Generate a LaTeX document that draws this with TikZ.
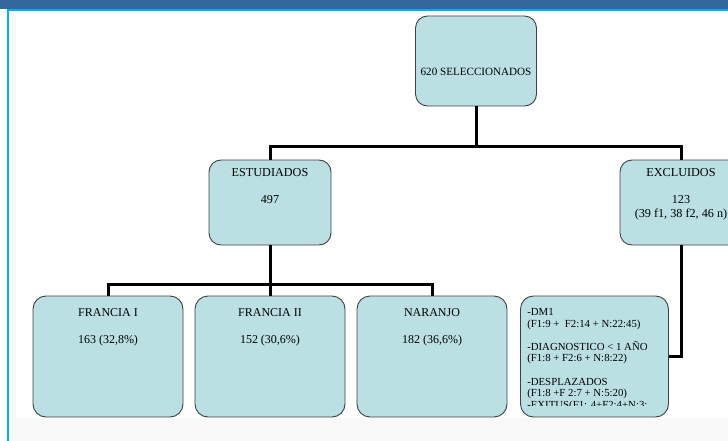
\documentclass[tikz,border=0pt]{standalone}
\usepackage{fontspec}
\setmainfont{Liberation Serif}
\usetikzlibrary{positioning}
\definecolor{cajaFill}{HTML}{BBE0E3}
\definecolor{cajaBorde}{HTML}{404040}
\definecolor{barraTop}{HTML}{336699}
\definecolor{lineaCian}{HTML}{00B0F0}
\definecolor{fondoGris}{HTML}{F9F9F9}
\tikzset{
  caja/.style 2 args={
    rectangle, rounded corners=12pt, draw=cajaBorde, line width=0.9pt,
    fill=cajaFill, minimum width=#1, minimum height=#2, inner sep=0pt,
  },
  rotulo/.style={
    inner sep=0pt, align=center, font=\fontsize{12.2}{13.5}\selectfont,
  },
  rotuloChico/.style={
    inner sep=0pt, align=center, font=\fontsize{12}{13.5}\selectfont,
  },
  listado/.style={
    inner sep=0pt, align=left, font=\fontsize{10.8}{11.6}\selectfont,
  },
  conector/.style={
    line width=3pt, draw=black,
  },
}

\begin{document}
\begin{tikzpicture}[x=1pt,y=-1pt]
\clip (0,0) rectangle (728,441);
\fill[white] (0,0) rectangle (728,441);
\fill[fondoGris] (9,11) rectangle (728,441);
\fill[white] (16,11) rectangle (728,418);
\fill[barraTop] (0,0) rectangle (728,9);
\fill[lineaCian] (7,9) rectangle (728,11);
\fill[lineaCian] (7,9) rectangle (9,441);

\coordinate (nudo1) at (476,147);
\coordinate (nudo2) at (270,284);

\node[caja={121pt}{90pt}] (selec) at (476,61) {};
\node[caja={122pt}{85pt}] (estud) at (270,202.5) {};
\node[caja={122pt}{85pt}] (excl) at (681,202.5) {};
\node[caja={150pt}{121pt}, rounded corners=13pt] (fr1) at (108,356.5) {};
\node[caja={150pt}{121pt}, rounded corners=13pt] (fr2) at (270,356.5) {};
\node[caja={150pt}{121pt}, rounded corners=13pt] (nar) at (432,356.5) {};
\node[caja={148pt}{121pt}, rounded corners=13pt] (lista) at (594.5,356.5) {};

\draw[conector] (selec.south) -- (nudo1);
\draw[conector] (estud.north) |- (nudo1);
\draw[conector] (excl.north) |- (nudo1);
\draw[conector] (estud.south) -- (nudo2);
\foreach \caj in {fr1,fr2,nar}
  \draw[conector] (\caj.north) |- (nudo2);
\draw[conector] (excl.south) |- (lista.east);

\node[rotulo, font=\fontsize{11.1}{13.5}\selectfont] (selec-t)
  at ([yshift=-11pt]selec.center) {620 SELECCIONADOS};
\node[rotulo, anchor=north] (estud-t) at ([yshift=-8.7pt]estud.north)
  {ESTUDIADOS\\[13.6pt]497};
\node[rotulo, anchor=north] (excl-t) at ([yshift=-8.7pt]excl.north)
  {EXCLUIDOS\\[13.6pt]123\\(39 f1, 38 f2, 46 n)};
\node[rotuloChico, anchor=north] (fr1-t) at ([yshift=-13pt]fr1.north)
  {FRANCIA I\\[13.8pt]163 (32,8\%)};
\node[rotuloChico, anchor=north] (fr2-t) at ([yshift=-13pt]fr2.north)
  {FRANCIA II\\[13.8pt]152 (30,6\%)};
\node[rotuloChico, anchor=north] (nar-t) at ([yshift=-13pt]nar.north)
  {NARANJO\\[13.8pt]182 (36,6\%)};

\begin{scope}
\clip (lista.north west) rectangle ([yshift=11.5pt]lista.south east);
\node[listado, anchor=north west] (lista-t)
  at ([xshift=7pt,yshift=-12.6pt]lista.north west)
  {-DM1\\(F1:9 +~ F2:14 + N:22:45)\\[11.6pt]
   -DIAGNOSTICO < 1 AÑO\\(F1:8 + F2:6 + N:8:22)\\[11.6pt]
   -DESPLAZADOS\\(F1:8 +F 2:7 + N:5:20)\\
   -EXITUS(F1: 4+F2:4+N:3:};
\end{scope}
\end{tikzpicture}
\end{document}
